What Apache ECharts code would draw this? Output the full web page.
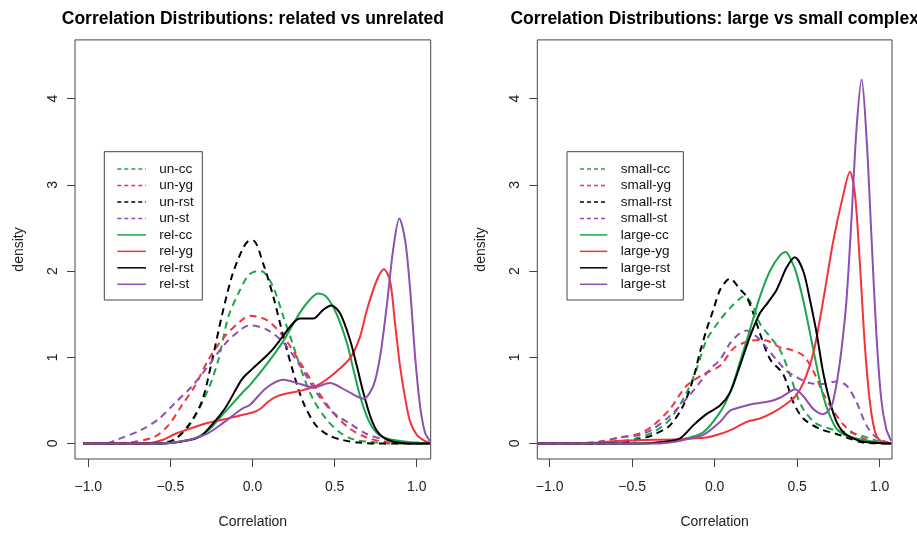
<!DOCTYPE html>
<html><head><meta charset="utf-8">
<script src="https://cdn.jsdelivr.net/npm/echarts@6/dist/echarts.min.js"></script>
<style>html,body{margin:0;padding:0;background:#fff}#c{width:917px;height:534px}</style>
</head><body><div id="c"></div>
<script>
// ---------- data ----------
const titles = ['Correlation Distributions: related vs unrelated', 'Correlation Distributions: large vs small complex'];
const xAxisName = 'Correlation';
const yAxisName = 'density';
const xTicks = [-1, -0.5, 0, 0.5, 1];
const xTickLabels = ['\u22121.0', '\u22120.5', '0.0', '0.5', '1.0'];
const yTicks = [0, 1, 2, 3, 4];
const yTickLabels = ['0', '1', '2', '3', '4'];
const leftNames = ['un-cc', 'un-yg', 'un-rst', 'un-st', 'rel-cc', 'rel-yg', 'rel-rst', 'rel-st'];
const rightNames = ['small-cc', 'small-yg', 'small-rst', 'small-st', 'large-cc', 'large-yg', 'large-rst', 'large-st'];

// left panel
const unCC = [[-1.03,0],[-0.6,0],[-0.5,0.03],[-0.45,0.08],[-0.37,0.25],[-0.269,0.63],[-0.208,0.97],[-0.147,1.47],[-0.086,1.74],[-0.025,1.95],[0.03,2.0],[0.066,1.99],[0.127,1.81],[0.188,1.47],[0.249,1.13],[0.31,0.78],[0.37,0.51],[0.45,0.28],[0.53,0.13],[0.61,0.05],[0.7,0.02],[0.85,0],[1.08,0]];
const unYG = [[-1.03,0],[-0.85,0],[-0.72,0.02],[-0.594,0.08],[-0.513,0.21],[-0.431,0.44],[-0.35,0.67],[-0.269,0.97],[-0.17,1.24],[-0.066,1.43],[-0.015,1.48],[0.087,1.43],[0.188,1.24],[0.29,0.94],[0.39,0.63],[0.49,0.36],[0.594,0.17],[0.695,0.07],[0.8,0.02],[0.95,0],[1.08,0]];
const unRST = [[-1.03,0],[-0.56,0],[-0.472,0.05],[-0.39,0.21],[-0.31,0.48],[-0.25,0.93],[-0.188,1.47],[-0.127,1.93],[-0.066,2.23],[-0.02,2.35],[0.005,2.35],[0.066,2.08],[0.127,1.70],[0.188,1.24],[0.249,0.82],[0.31,0.47],[0.39,0.2],[0.47,0.09],[0.55,0.04],[0.65,0.01],[0.75,0],[1.08,0]];
const unST = [[-1.03,0],[-0.9,0],[-0.817,0.05],[-0.675,0.16],[-0.574,0.28],[-0.472,0.47],[-0.37,0.66],[-0.269,0.90],[-0.17,1.15],[-0.066,1.33],[-0.015,1.37],[0.087,1.32],[0.188,1.17],[0.29,0.90],[0.39,0.59],[0.49,0.36],[0.594,0.23],[0.695,0.11],[0.797,0.05],[0.9,0.01],[1.0,0],[1.08,0]];
const relCC = [[-1.03,0],[-0.55,0],[-0.45,0.02],[-0.35,0.06],[-0.27,0.15],[-0.17,0.36],[-0.066,0.58],[-0.015,0.68],[0.087,0.92],[0.188,1.19],[0.29,1.52],[0.35,1.67],[0.40,1.74],[0.45,1.70],[0.51,1.51],[0.574,1.17],[0.614,0.86],[0.655,0.55],[0.695,0.32],[0.736,0.17],[0.797,0.07],[0.9,0.03],[1.0,0.01],[1.08,0]];
const relYG = [[-1.03,0],[-0.65,0],[-0.55,0.04],[-0.472,0.11],[-0.37,0.18],[-0.269,0.24],[-0.17,0.28],[-0.066,0.33],[0.0,0.36],[0.046,0.40],[0.087,0.47],[0.13,0.53],[0.188,0.57],[0.29,0.61],[0.39,0.67],[0.49,0.80],[0.594,0.99],[0.655,1.24],[0.695,1.54],[0.756,1.89],[0.80,2.02],[0.837,1.89],[0.868,1.39],[0.898,0.90],[0.93,0.52],[0.96,0.25],[1.0,0.10],[1.04,0.04],[1.08,0.01]];
const relRST = [[-1.03,0],[-0.55,0],[-0.41,0.03],[-0.32,0.08],[-0.269,0.17],[-0.17,0.40],[-0.066,0.74],[-0.015,0.84],[0.087,1.02],[0.127,1.10],[0.168,1.20],[0.249,1.40],[0.29,1.45],[0.37,1.45],[0.43,1.55],[0.48,1.60],[0.533,1.51],[0.594,1.20],[0.635,0.90],[0.675,0.59],[0.716,0.32],[0.756,0.15],[0.797,0.07],[0.86,0.02],[0.95,0],[1.08,0]];
const relST = [[-1.03,0],[-0.55,0],[-0.45,0.02],[-0.37,0.05],[-0.27,0.12],[-0.17,0.25],[-0.066,0.40],[-0.015,0.45],[0.087,0.65],[0.188,0.74],[0.29,0.69],[0.37,0.65],[0.47,0.70],[0.574,0.61],[0.675,0.52],[0.736,0.67],[0.777,1.01],[0.817,1.59],[0.858,2.27],[0.894,2.61],[0.93,2.35],[0.96,1.78],[0.99,1.01],[1.02,0.44],[1.05,0.13],[1.08,0.03]];

// right panel
const smallCC = [[-1.07,0],[-0.75,0],[-0.6,0.02],[-0.473,0.06],[-0.372,0.13],[-0.271,0.28],[-0.17,0.59],[-0.11,0.86],[-0.049,1.20],[0.032,1.43],[0.093,1.57],[0.153,1.68],[0.18,1.71],[0.234,1.58],[0.274,1.39],[0.335,1.24],[0.40,1.07],[0.456,0.80],[0.50,0.55],[0.537,0.40],[0.60,0.25],[0.638,0.21],[0.739,0.15],[0.84,0.12],[0.94,0.06],[1.0,0.02],[1.07,0]];
const smallYG = [[-1.07,0],[-0.85,0],[-0.7,0.02],[-0.574,0.07],[-0.45,0.12],[-0.372,0.21],[-0.271,0.40],[-0.17,0.67],[-0.069,0.80],[0.032,0.90],[0.113,1.10],[0.194,1.18],[0.274,1.20],[0.335,1.18],[0.40,1.11],[0.456,1.09],[0.537,1.02],[0.598,0.84],[0.658,0.58],[0.719,0.38],[0.78,0.22],[0.84,0.12],[0.9,0.06],[0.96,0.02],[1.07,0]];
const smallRST = [[-1.07,0],[-0.6,0],[-0.473,0.04],[-0.372,0.10],[-0.271,0.21],[-0.19,0.44],[-0.13,0.75],[-0.089,1.06],[-0.049,1.32],[-0.008,1.55],[0.032,1.78],[0.073,1.89],[0.093,1.91],[0.153,1.79],[0.194,1.70],[0.234,1.51],[0.274,1.28],[0.335,0.98],[0.416,0.80],[0.476,0.48],[0.537,0.29],[0.638,0.17],[0.739,0.11],[0.8,0.07],[0.9,0.01],[1.07,0]];
const smallST = [[-1.07,0],[-0.85,0],[-0.7,0.02],[-0.574,0.07],[-0.45,0.10],[-0.372,0.17],[-0.271,0.32],[-0.17,0.52],[-0.089,0.71],[-0.029,0.86],[0.032,0.97],[0.093,1.16],[0.153,1.28],[0.194,1.31],[0.254,1.24],[0.315,1.11],[0.375,0.97],[0.436,0.84],[0.496,0.77],[0.578,0.70],[0.658,0.69],[0.739,0.72],[0.8,0.67],[0.86,0.48],[0.92,0.21],[0.98,0.07],[1.07,0]];
const largeCC = [[-1.07,0],[-0.4,0],[-0.3,0.02],[-0.17,0.06],[-0.069,0.13],[0.032,0.36],[0.093,0.59],[0.153,0.94],[0.214,1.32],[0.274,1.70],[0.335,2.0],[0.396,2.18],[0.43,2.22],[0.47,2.10],[0.496,1.97],[0.537,1.66],[0.578,1.28],[0.618,0.90],[0.658,0.55],[0.699,0.32],[0.739,0.17],[0.8,0.09],[0.9,0.04],[1.0,0.01],[1.07,0]];
const largeYG = [[-1.07,0],[-0.8,0],[-0.6,0.03],[-0.45,0.04],[-0.23,0.05],[-0.05,0.07],[0.032,0.11],[0.113,0.17],[0.194,0.25],[0.274,0.29],[0.355,0.36],[0.436,0.46],[0.49,0.55],[0.537,0.70],[0.598,1.05],[0.658,1.66],[0.719,2.35],[0.779,2.88],[0.82,3.15],[0.85,2.9],[0.88,2.1],[0.91,1.15],[0.94,0.5],[0.97,0.15],[1.0,0.04],[1.07,0]];
const largeRST = [[-1.07,0],[-0.45,0],[-0.3,0.02],[-0.21,0.06],[-0.13,0.21],[-0.05,0.34],[0.032,0.44],[0.093,0.59],[0.153,0.90],[0.214,1.24],[0.274,1.51],[0.325,1.64],[0.375,1.78],[0.436,2.04],[0.486,2.16],[0.537,2.0],[0.578,1.66],[0.618,1.28],[0.658,0.82],[0.699,0.48],[0.739,0.25],[0.78,0.13],[0.84,0.06],[0.9,0.02],[1.07,0]];
const largeST = [[-1.07,0],[-0.35,0],[-0.24,0.02],[-0.17,0.05],[-0.069,0.10],[0.032,0.25],[0.093,0.38],[0.153,0.42],[0.234,0.46],[0.335,0.49],[0.396,0.53],[0.456,0.60],[0.486,0.63],[0.537,0.55],[0.598,0.40],[0.658,0.34],[0.69,0.38],[0.715,0.47],[0.745,0.76],[0.769,1.09],[0.799,1.66],[0.83,2.62],[0.86,3.65],[0.891,4.22],[0.92,3.57],[0.95,2.42],[0.98,1.28],[1.01,0.51],[1.04,0.17],[1.07,0.03]];

// ---------- styling / layout ----------
const FONT = '"Liberation Sans", Arial, Helvetica, sans-serif';
const GREEN = '#1ba64b', RED = '#f2333b', BLACK = '#000000', PURPLE = '#8f4fb0';
const seriesColors = [GREEN, RED, BLACK, PURPLE, GREEN, RED, BLACK, PURPLE];
const seriesDashed = [true, true, true, true, false, false, false, false];
const BOX = '#444';

const panels = [
  { title: titles[0], names: leftNames, data: [unCC, unYG, unRST, unST, relCC, relYG, relRST, relST],
    grid: { left: 75, top: 39.9, width: 355.7, height: 424 }, xmin: -1.081, xmax: 1.085,
    leg: { x: 104.3, y: 151.7, w: 98, h: 148.3, lx1: 117.3, lx2: 146, tx: 159.3 } },
  { title: titles[1], names: rightNames, data: [smallCC, smallYG, smallRST, smallST, largeCC, largeYG, largeRST, largeST],
    grid: { left: 537.3, top: 39.9, width: 354.7, height: 424 }, xmin: -1.075, xmax: 1.075,
    leg: { x: 567, y: 151.7, w: 116.3, h: 148.3, lx1: 580, lx2: 607.3, tx: 620.7 } }
];

const grids = [], xAxes = [], yAxes = [], series = [], graphics = [];
panels.forEach((p, pi) => {
  grids.push(Object.assign({ show: true, borderColor: BOX, borderWidth: 1, backgroundColor: 'transparent' }, p.grid));
  xAxes.push({
    type: 'value', gridIndex: pi, min: p.xmin, max: p.xmax, position: 'bottom',
    axisLine: { show: false, onZero: false }, splitLine: { show: false },
    axisTick: { show: true, length: 8, customValues: xTicks, lineStyle: { color: BOX } },
    axisLabel: { customValues: xTicks, margin: 21, fontSize: 14, fontFamily: FONT, color: '#222',
      formatter: v => xTickLabels[xTicks.findIndex(t => Math.abs(t - v) < 1e-9)] },
    name: xAxisName, nameLocation: 'middle', nameGap: 56,
    nameTextStyle: { fontSize: 14, fontFamily: FONT, color: '#222' }
  });
  yAxes.push({
    type: 'value', gridIndex: pi, min: -0.18, max: 4.68, position: 'left',
    axisLine: { show: false, onZero: false }, splitLine: { show: false },
    axisTick: { show: true, length: 8, customValues: yTicks, lineStyle: { color: BOX } },
    axisLabel: { customValues: yTicks, rotate: 90, margin: 15, fontSize: 14, fontFamily: FONT, color: '#222',
      formatter: v => yTickLabels[yTicks.findIndex(t => Math.abs(t - v) < 1e-9)] },
    name: yAxisName, nameLocation: 'middle', nameGap: 49,
    nameTextStyle: { fontSize: 14, fontFamily: FONT, color: '#222' }
  });
  p.data.forEach((d, i) => {
    series.push({
      type: 'line', name: p.names[i], xAxisIndex: pi, yAxisIndex: pi, data: d,
      symbol: 'none', showSymbol: false, smooth: 0.3, clip: true, z: 2 + i,
      lineStyle: { color: seriesColors[i], width: 2, type: seriesDashed[i] ? [7, 5] : 'solid' },
      itemStyle: { color: seriesColors[i] }, emphasis: { disabled: true }
    });
  });
  // title
  graphics.push({ type: 'text', x: p.grid.left + p.grid.width / 2, y: 18.7, z: 100,
    style: { text: p.title, align: 'center', verticalAlign: 'middle', font: 'bold 17.5px ' + FONT, fill: '#000' } });
  // legend box
  const L = p.leg;
  graphics.push({ type: 'rect', shape: { x: L.x, y: L.y, width: L.w, height: L.h }, z: 100,
    style: { fill: '#fff', stroke: BOX, lineWidth: 1 } });
  p.names.forEach((n, i) => {
    const ry = 169 + i * 16.47;
    graphics.push({ type: 'line', z: 101, shape: { x1: L.lx1, y1: ry, x2: L.lx2, y2: ry },
      style: { stroke: seriesColors[i], lineWidth: 1.5, lineDash: seriesDashed[i] ? [4, 3] : null } });
    graphics.push({ type: 'text', z: 101, x: L.tx, y: ry,
      style: { text: n, align: 'left', verticalAlign: 'middle', font: '13.5px ' + FONT, fill: '#111' } });
  });
});

const chart = echarts.init(document.getElementById('c'), null, { renderer: 'canvas' });
chart.setOption({
  animation: false,
  backgroundColor: '#fff',
  grid: grids, xAxis: xAxes, yAxis: yAxes, series: series, graphic: graphics
});
</script>
</body></html>
